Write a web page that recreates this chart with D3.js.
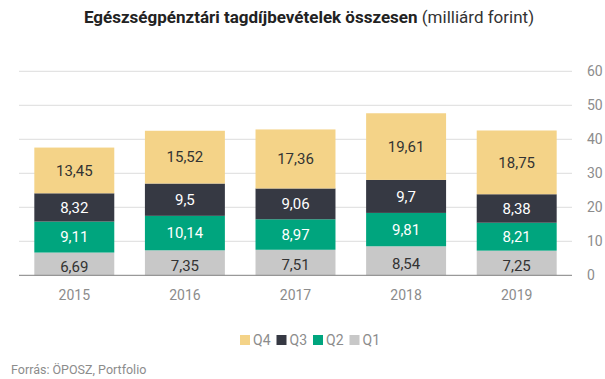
<!DOCTYPE html>
<html>
<head>
<meta charset="utf-8">
<script src="https://cdn.jsdelivr.net/npm/d3@7"></script>
<style>
  html, body { margin: 0; padding: 0; background: #fff; }
  svg { display: block; font-family: Roboto, "Noto Sans", sans-serif; }
</style>
</head>
<body>
<svg id="chart" width="605" height="379"></svg>
<script>
const years = ["2015", "2016", "2017", "2018", "2019"];
const q1 = [6.69, 7.35, 7.51, 8.54, 7.25];
const q2 = [9.11, 10.14, 8.97, 9.81, 8.21];
const q3 = [8.32, 9.5, 9.06, 9.7, 8.38];
const q4 = [13.45, 15.52, 17.36, 19.61, 18.75];
const seriesNames = ["Q1", "Q2", "Q3", "Q4"];
const yTicks = [0, 10, 20, 30, 40, 50, 60];

(function () {
const colors = { Q1: "#c8c8c8", Q2: "#00a57e", Q3: "#363943", Q4: "#f4d388" };
const labelColors = { Q1: "#333333", Q2: "#ffffff", Q3: "#ffffff", Q4: "#333333" };

const rows = years.map((y, i) => ({ year: y, Q1: q1[i], Q2: q2[i], Q3: q3[i], Q4: q4[i] }));
const stacked = d3.stack().keys(seriesNames)(rows);

const svg = d3.select("#chart");
const pLeft = 19, pRight = 572, pTop = 71.3, pBottom = 275.3;

const x = d3.scaleBand().domain(years).range([pLeft, pRight]).paddingInner(0.277).paddingOuter(0.1385);
const y = d3.scaleLinear().domain([0, 60]).range([pBottom, pTop]);

// gridlines
svg.append("g").selectAll("line").data(yTicks.filter(t => t > 0)).join("line")
  .attr("x1", pLeft).attr("x2", pRight)
  .attr("y1", d => y(d)).attr("y2", d => y(d))
  .attr("stroke", "#dddddd").attr("stroke-width", 1);

// y axis labels
const yAxis = d3.axisRight(y).tickValues(yTicks).tickSize(0).tickPadding(0).tickFormat(d3.format("d"));
const yg = svg.append("g").attr("transform", `translate(${pRight + 15},0)`).call(yAxis);
yg.select(".domain").remove();
yg.selectAll("text").attr("fill", "#8c8c8c").style("font-size", "14px").style("font-family", "Roboto");

// bars
const layer = svg.append("g").selectAll("g").data(stacked).join("g")
  .attr("fill", d => colors[d.key]);
layer.selectAll("rect").data(d => d).join("rect")
  .attr("x", d => x(d.data.year))
  .attr("width", x.bandwidth())
  .attr("y", d => y(d[1]))
  .attr("height", d => y(d[0]) - y(d[1]));

// value labels
const fmt = v => String(v).replace(".", ",");
svg.append("g").selectAll("g").data(stacked).join("g")
  .each(function (s) {
    d3.select(this).selectAll("text").data(s).join("text")
      .attr("x", d => x(d.data.year) + x.bandwidth() / 2)
      .attr("y", d => (y(d[0]) + y(d[1])) / 2 + (s.key === "Q1" ? 2.5 : 0))
      .attr("dy", "0.35em")
      .attr("text-anchor", "middle")
      .attr("fill", labelColors[s.key])
      .style("font-size", "15px")
      .text(d => fmt(d.data[s.key]));
  });

// baseline
svg.append("line").attr("x1", pLeft).attr("x2", pRight)
  .attr("y1", pBottom).attr("y2", pBottom)
  .attr("stroke", "#808080").attr("stroke-width", 1);

// x axis labels
const xAxis = d3.axisBottom(x).tickSize(0).tickPadding(0);
const xg = svg.append("g").attr("transform", `translate(0,${pBottom + 15})`).call(xAxis);
xg.select(".domain").remove();
xg.selectAll("text").attr("fill", "#8c8c8c").style("font-size", "14px").style("font-family", "Roboto");

// title
const title = svg.append("text").attr("x", 309).attr("y", 23).attr("text-anchor", "middle")
  .style("font-size", "17px").attr("fill", "#222");
title.append("tspan").style("font-weight", "bold").text("Egészségpénztári tagdíjbevételek összesen");
title.append("tspan").attr("fill", "#333").text(" (milliárd forint)");

// legend
const legendOrder = ["Q4", "Q3", "Q2", "Q1"];
const lg = svg.append("g").attr("transform", "translate(240,340)");
let lx = 0;
legendOrder.forEach(k => {
  const g = lg.append("g").attr("transform", `translate(${lx},0)`);
  g.append("rect").attr("x", 0).attr("y", -5).attr("width", 10).attr("height", 10).attr("fill", colors[k]);
  g.append("text").attr("x", 13).attr("y", 0).attr("dy", "0.35em").attr("fill", "#8c8c8c")
    .style("font-size", "14px").text(k);
  lx += 36.5;
});

// source
svg.append("text").attr("x", 11).attr("y", 374).attr("fill", "#8c8c8c")
  .style("font-size", "12.5px").text("Forrás: ÖPOSZ, Portfolio");
})();
</script>
</body>
</html>
